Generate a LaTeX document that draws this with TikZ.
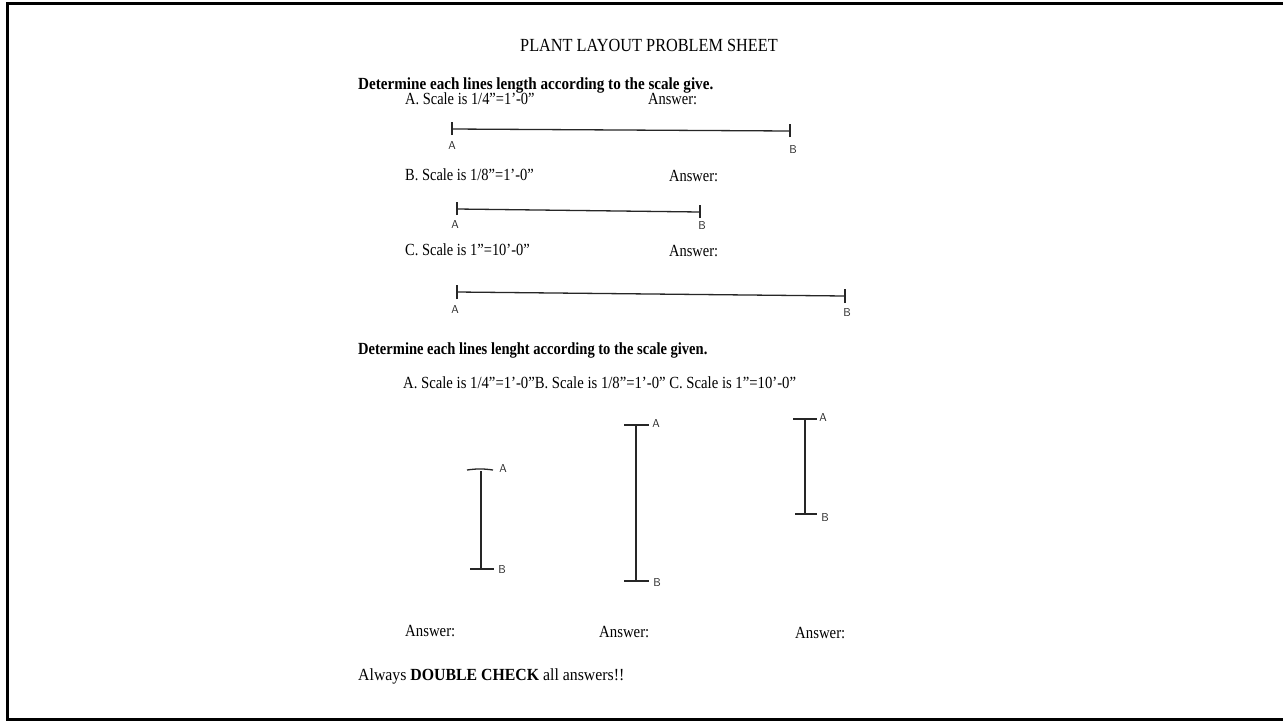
\documentclass[tikz,border=0pt]{standalone}
\usepackage{fontspec}
\setmainfont{Liberation Serif}
\newcommand\sq[2][0.85]{\scalebox{#1}[1]{#2}}
\tikzset{
  txt/.style={anchor=base west, inner sep=0, font=\fontsize{17}{20}\selectfont},
  hw/.style={inner sep=0, font=\fontsize{11.5}{13}\sffamily, text=black!85},
  bar/.style={line width=1.3pt, draw=black!85},
  tick/.style={line width=1.3pt, draw=black!85}
}
\begin{document}
\begin{tikzpicture}[x=1pt,y=-1pt]
\useasboundingbox (0,0) rectangle (1283,721);
\fill[white] (0,0) rectangle (1283,721);
\draw[line width=3pt] (1283,3) -- (7,3) -- (7,719) -- (1283,719);

% title and texts
\node[txt, font=\fontsize{18.5}{22}\selectfont] (title) at (520,51) {\sq[0.88]{PLANT LAYOUT PROBLEM SHEET}};
\node[txt] (det1) at (358,89) {\sq[0.89]{\textbf{Determine each lines length according to the scale give.}}};
\node[txt] (sa) at (405,104) {\sq{A. Scale is 1/4”=1’-0”}};
\node[txt] (ansA) at (648,104) {\sq{Answer:}};
\node[txt] (sb) at (405,180) {\sq{B. Scale is 1/8”=1’-0”}};
\node[txt] (ansB) at (669,181) {\sq{Answer:}};
\node[txt] (sc) at (405,255) {\sq{C. Scale is 1”=10’-0”}};
\node[txt] (ansC) at (669,256) {\sq{Answer:}};
\node[txt] (det2) at (358,354) {\sq[0.855]{\textbf{Determine each lines lenght according to the scale given.}}};
\node[txt] (sabc) at (403,388) {\sq[0.865]{A. Scale is 1/4”=1’-0”B. Scale is 1/8”=1’-0” C. Scale is 1”=10’-0”}};
\node[txt] (ans1) at (405,636) {\sq[0.87]{Answer:}};
\node[txt] (ans2) at (599,637) {\sq[0.87]{Answer:}};
\node[txt] (ans3) at (795,638) {\sq[0.87]{Answer:}};
\node[txt] (always) at (358,680) {\sq[0.93]{Always \textbf{DOUBLE CHECK} all answers!!}};

% horizontal line A
\coordinate (hA1) at (452,129);
\coordinate (hB1) at (790,131);
\draw[bar] (hA1) -- (hB1);
\draw[tick] ([yshift=-6]hA1) -- ([yshift=7]hA1);
\draw[tick] ([yshift=-6]hB1) -- ([yshift=7]hB1);
\node[hw] (lA1) at (452,146) {A};
\node[hw] (lB1) at (793,150) {B};

% horizontal line B
\coordinate (hA2) at (457,209);
\coordinate (hB2) at (700,212);
\draw[bar] (hA2) -- (hB2);
\draw[tick] ([yshift=-6]hA2) -- ([yshift=7]hA2);
\draw[tick] ([yshift=-6]hB2) -- ([yshift=7]hB2);
\node[hw] (lA2) at (455,225) {A};
\node[hw] (lB2) at (702,226) {B};

% horizontal line C
\coordinate (hA3) at (457,292);
\coordinate (hB3) at (845,296);
\draw[bar] (hA3) -- (hB3);
\draw[tick] ([yshift=-7]hA3) -- ([yshift=7]hA3);
\draw[tick] ([yshift=-7]hB3) -- ([yshift=7]hB3);
\node[hw] (lA3) at (455,310) {A};
\node[hw] (lB3) at (847,313) {B};

% vertical bar 1
\coordinate (vA1) at (481,471);
\coordinate (vB1) at (481,569);
\draw[bar] (vA1) -- (vB1);
\draw[tick] (467,470) to[bend left=8] (493,470);
\draw[tick] ([xshift=-11]vB1) -- ([xshift=13]vB1);
\node[hw] (vlA1) at (503,469) {A};
\node[hw] (vlB1) at (502,570) {B};

% vertical bar 2
\coordinate (vA2) at (636,425);
\coordinate (vB2) at (636,581);
\draw[bar] (vA2) -- (vB2);
\draw[tick] ([xshift=-12]vA2) -- ([xshift=13]vA2);
\draw[tick] ([xshift=-12]vB2) -- ([xshift=13]vB2);
\node[hw] (vlA2) at (656,424) {A};
\node[hw] (vlB2) at (657,582) {B};

% vertical bar 3
\coordinate (vA3) at (805,419);
\coordinate (vB3) at (805,514);
\draw[bar] (vA3) -- (vB3);
\draw[tick] ([xshift=-12]vA3) -- ([xshift=12]vA3);
\draw[tick] ([xshift=-10]vB3) -- ([xshift=12]vB3);
\node[hw] (vlA3) at (823,418) {A};
\node[hw] (vlB3) at (825,517) {B};
\end{tikzpicture}
\end{document}
